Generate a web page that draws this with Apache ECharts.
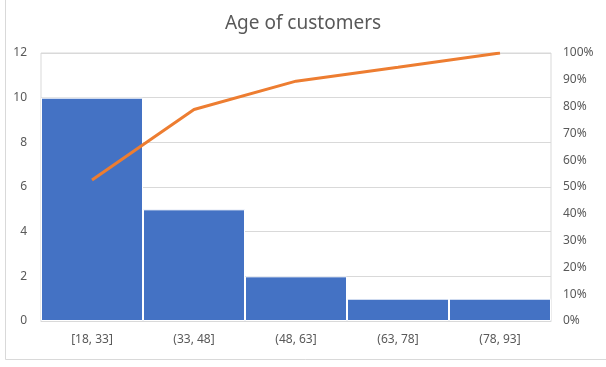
<!DOCTYPE html>
<html><head><meta charset="utf-8">
<script src="https://cdn.jsdelivr.net/npm/echarts@6/dist/echarts.min.js"></script>
<style>html,body{margin:0;padding:0;background:#fff}#c{width:606px;height:367px}</style>
</head><body><div id="c"></div>
<script>
const categories = ['[18, 33]', '(33, 48]', '(48, 63]', '(63, 78]', '(78, 93]'];
const counts = [10, 5, 2, 1, 1];
const cumulativePct = [52.6, 78.9, 89.5, 94.7, 100];
const leftTicks = [0, 2, 4, 6, 8, 10, 12];
const rightTicks = [0, 10, 20, 30, 40, 50, 60, 70, 80, 90, 100];

const chart = echarts.init(document.getElementById('c'));
const font = 'Noto Sans, sans-serif';
chart.setOption({
  animation: false,
  backgroundColor: '#fff',
  textStyle: {fontFamily: font},
  title: {text: 'Age of customers', left: 'center', top: 9,
    textStyle: {fontSize: 19, fontWeight: 'normal', color: '#595959', fontFamily: font}},
  graphic: [
    {type: 'line', silent: true, shape: {x1: 5.5, y1: 0, x2: 5.5, y2: 359.5}, style: {stroke: '#d9d9d9', lineWidth: 1}},
    {type: 'line', silent: true, shape: {x1: 5.5, y1: 359.5, x2: 606, y2: 359.5}, style: {stroke: '#d9d9d9', lineWidth: 1}}
  ],
  grid: {left: 41, right: 55, top: 53, bottom: 46, show: true, borderColor: '#d9d9d9', borderWidth: 1},
  xAxis: {type: 'category', data: categories,
    axisLine: {show: true, lineStyle: {color: '#d9d9d9'}}, axisTick: {show: false},
    axisLabel: {color: '#595959', fontSize: 12, margin: 13, fontFamily: font}},
  yAxis: [
    {type: 'value', min: leftTicks[0], max: leftTicks[leftTicks.length-1], interval: 2,
      axisLine: {show: false}, axisTick: {show: false},
      splitLine: {lineStyle: {color: '#d9d9d9'}},
      axisLabel: {color: '#595959', fontSize: 12, margin: 14, fontFamily: font}},
    {type: 'value', min: rightTicks[0], max: rightTicks[rightTicks.length-1], interval: 10,
      axisLine: {show: false}, axisTick: {show: false}, splitLine: {show: false},
      axisLabel: {color: '#595959', fontSize: 12, margin: 12, formatter: '{value}%', fontFamily: font}}
  ],
  series: [
    {type: 'bar', data: counts, barCategoryGap: '0%',
      itemStyle: {color: '#4472C4', borderColor: '#ffffff', borderWidth: 1}},
    {type: 'line', yAxisIndex: 1, data: cumulativePct, symbol: 'none',
      lineStyle: {color: '#ED7D31', width: 3}}
  ]
});
</script></body></html>
